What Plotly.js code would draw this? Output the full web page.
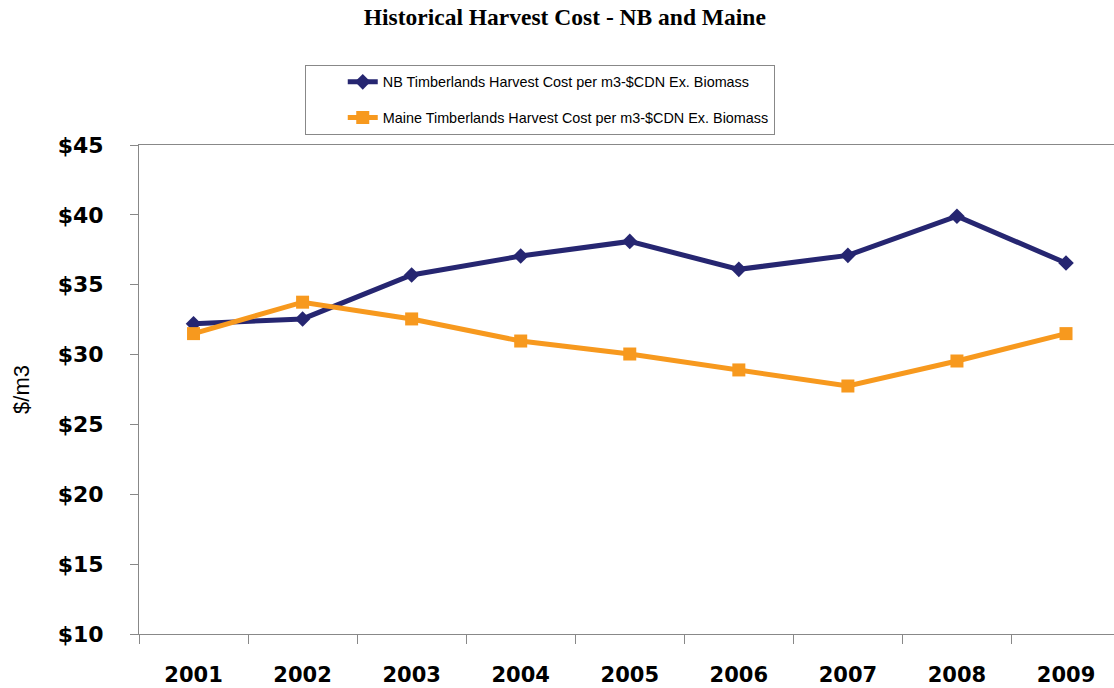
<!DOCTYPE html>
<html>
<head>
<meta charset="utf-8">
<script src="https://cdn.plot.ly/plotly-3.0.1.min.js"></script>
<style>html,body{margin:0;padding:0;overflow:hidden;background:#fff}#chart{width:1114px;height:688px}</style>
</head>
<body>
<div id="chart"></div>
<script>
const years = ["2001","2002","2003","2004","2005","2006","2007","2008","2009"];
const nbCost = [32.2, 32.55, 35.7, 37.05, 38.1, 36.1, 37.1, 39.9, 36.55];
const maineCost = [31.5, 33.75, 32.55, 30.97, 30.04, 28.9, 27.75, 29.54, 31.5];
const yTickVals = [10, 15, 20, 25, 30, 35, 40, 45];
const yTickText = ["$10","$15","$20","$25","$30","$35","$40","$45"];
const nbName = "NB Timberlands Harvest Cost per m3-$CDN Ex. Biomass";
const maineName = "Maine Timberlands Harvest Cost per m3-$CDN Ex. Biomass";

const traces = [
  {x: years, y: nbCost, name: nbName, type: "scatter", mode: "lines+markers",
   legendgroup: "a",
   line: {color: "#262671", width: 5}, marker: {symbol: "diamond", size: 12, color: "#262671"}},
  {x: years, y: maineCost, name: maineName, type: "scatter", mode: "lines+markers",
   legendgroup: "b",
   line: {color: "#F7991E", width: 5}, marker: {symbol: "square", size: 13, color: "#F7991E"}}
];

const layout = {
  width: 1114, height: 688,
  margin: {l: 139, r: 0, t: 145, b: 54},
  paper_bgcolor: "#fff", plot_bgcolor: "#fff",
  showlegend: true,
  title: {text: "Historical Harvest Cost - NB and Maine", xref: "container", x: 0.507, xanchor: "center",
          yref: "container", y: 0.987, yanchor: "top",
          font: {family: "Liberation Serif, Times New Roman, serif", size: 23.5, color: "#000", weight: "bold"}},
  xaxis: {type: "category", range: [-0.5, 8.44], showgrid: false, zeroline: false,
          showline: true, linecolor: "#888", linewidth: 1, mirror: true,
          ticks: "outside", tickson: "boundaries", ticklen: 9, tickcolor: "#888", tickwidth: 1,
          ticklabelstandoff: 22,
          tickfont: {family: "DejaVu Sans", size: 21, color: "#000", weight: "bold"}},
  yaxis: {range: [10, 45], tickvals: yTickVals, ticktext: yTickText, showgrid: false, zeroline: false,
          showline: true, linecolor: "#888", linewidth: 1,
          ticks: "outside", ticklen: 8, tickcolor: "#888", tickwidth: 1,
          ticklabelstandoff: 22,
          tickfont: {family: "DejaVu Sans", size: 22, color: "#000", weight: "bold"},
          title: {text: "$/m3", standoff: 21, font: {family: "Liberation Sans, Arial", size: 22, color: "#000"}}},
  legend: {x: 0.170, y: 1.1636, xanchor: "left", yanchor: "top", bgcolor: "#fff",
           bordercolor: "#888", borderwidth: 1, traceorder: "grouped", tracegroupgap: 14,
           indentation: 37,
           font: {family: "Liberation Sans, Arial", size: 14.4, color: "#000"}}
};

Plotly.newPlot("chart", traces, layout, {displayModeBar: false, staticPlot: true});
</script>
</body>
</html>
